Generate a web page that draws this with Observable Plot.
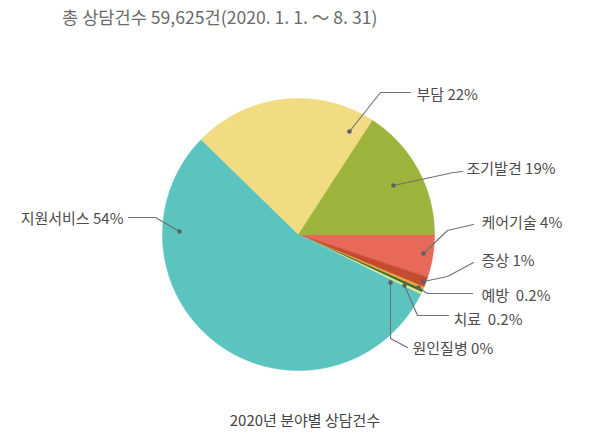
<!DOCTYPE html>
<html><head><meta charset="utf-8">
<script src="https://cdn.jsdelivr.net/npm/d3@7"></script>
<script src="https://cdn.jsdelivr.net/npm/@observablehq/plot@0.6"></script>
<style>
body{margin:0;background:#fff;font-family:"Noto Sans CJK KR","Noto Sans",sans-serif;}
#wrap{position:relative;width:600px;height:448px;overflow:hidden;background:#fff}
#title{position:absolute;left:62px;top:4px;font-size:17.6px;color:#6a6a6a;white-space:nowrap;letter-spacing:0px}
#chart{position:absolute;left:0;top:34px}
#caption{position:absolute;left:0;width:610px;text-align:center;top:409px;font-size:15px;color:#444}
</style></head>
<body>
<div id="wrap">
  <div id="title">총 상담건수 59,625건(2020. 1. 1. ～ 8. 31)</div>
  <div id="chart"></div>
  <div id="caption">2020년 분야별 상담건수</div>
</div>
<script>
// ---- data (clockwise from 3 o'clock) ----
const categories = ["케어기술", "증상", "예방", "치료", "원인질병", "지원서비스", "부담", "조기발견"];
const shares = [5.1, 1.2, 0.35, 0.3, 0.3, 54.9, 21.8, 15.8]; // slice sizes as drawn (%)
const labelTexts = ["케어기술 4%", "증상 1%", "예방\u00a0 0.2%", "치료\u00a0 0.2%", "원인질병 0%", "지원서비스 54%", "부담 22%", "조기발견 19%"];

// ---- style ----
const colors = ["#E8695A", "#C44A30", "#E9A43A", "#2F6B38", "#E4E78E", "#5CC4BE", "#F2DC83", "#9DB43C"];

// ---- layout (pixels relative to pie centre; radius R) ----
const R = 136;
const W = 600, H = 370, CX = 298, CY = 200;
const leaderLayout = {
  "케어기술":   {pts: [[125, 19], [149, -4], [175, -10]], text: [183, -11], anchor: "start"},
  "증상":       {pts: [[125, 47], [149, 42], [175, 28]], text: [183, 27], anchor: "start"},
  "예방":       {pts: [[120, 53], [129, 59], [174, 59]], text: [183, 62], anchor: "start"},
  "치료":       {pts: [[106, 51], [119, 81], [150, 81]], text: [155, 86], anchor: "start"},
  "원인질병":   {pts: [[92, 48], [92, 104], [109, 113]], text: [114, 115], anchor: "start"},
  "지원서비스": {pts: [[-119, -3], [-143, -17], [-170, -17]], text: [-175, -15], anchor: "end"},
  "부담":       {pts: [[51, -103], [82, -142], [112, -142]], text: [118, -139], anchor: "start"},
  "조기발견":   {pts: [[95, -49], [155, -62], [164, -63]], text: [168, -65], anchor: "start"}
};

// ---- build slices with d3.pie ----
const arcs = d3.pie().sort(null).startAngle(Math.PI / 2).endAngle(Math.PI / 2 + 2 * Math.PI)(shares);
const marks = [];
arcs.forEach((a, i) => {
  const pts = [{x: 0, y: 0}];
  const n = Math.max(2, Math.ceil((a.endAngle - a.startAngle) / 0.004));
  for (let k = 0; k <= n; k++) {
    const t = a.startAngle + (a.endAngle - a.startAngle) * k / n;
    pts.push({x: Math.sin(t), y: -Math.cos(t)});
  }
  pts.push({x: 0, y: 0});
  marks.push(Plot.line(pts, {x: "x", y: "y", fill: colors[i], stroke: colors[i], strokeWidth: 0.6, curve: "linear"}));
});

// leaders, dots, labels
const leaderRows = [], dotRows = [], textRows = [];
categories.forEach((c, i) => {
  const L = leaderLayout[c];
  L.pts.forEach(p => leaderRows.push({cat: c, x: p[0] / R, y: p[1] / R}));
  dotRows.push({x: L.pts[0][0] / R, y: L.pts[0][1] / R});
  textRows.push({x: L.text[0] / R, y: L.text[1] / R, label: labelTexts[i], anchor: L.anchor});
});
marks.push(Plot.line(leaderRows, {x: "x", y: "y", z: "cat", stroke: "#707070", strokeWidth: 1.1}));
marks.push(Plot.dot(dotRows, {x: "x", y: "y", r: 2.3, fill: "#5f5f5f", stroke: null}));
marks.push(Plot.text(textRows.filter(d => d.anchor === "start"), {x: "x", y: "y", text: "label", textAnchor: "start", fontSize: 15, fill: "#4d4d4d"}));
marks.push(Plot.text(textRows.filter(d => d.anchor === "end"), {x: "x", y: "y", text: "label", textAnchor: "end", fontSize: 15, fill: "#4d4d4d"}));

const chart = Plot.plot({
  width: W, height: H,
  marginLeft: 0, marginRight: 0, marginTop: 0, marginBottom: 0,
  x: {domain: [-CX / R, (W - CX) / R], range: [0, W], axis: null},
  y: {domain: [-CY / R, (H - CY) / R], range: [0, H], axis: null},
  style: {fontFamily: "'Noto Sans CJK KR', 'Noto Sans', sans-serif", background: "#fff"},
  marks
});
document.getElementById("chart").appendChild(chart);
</script>
</body></html>
